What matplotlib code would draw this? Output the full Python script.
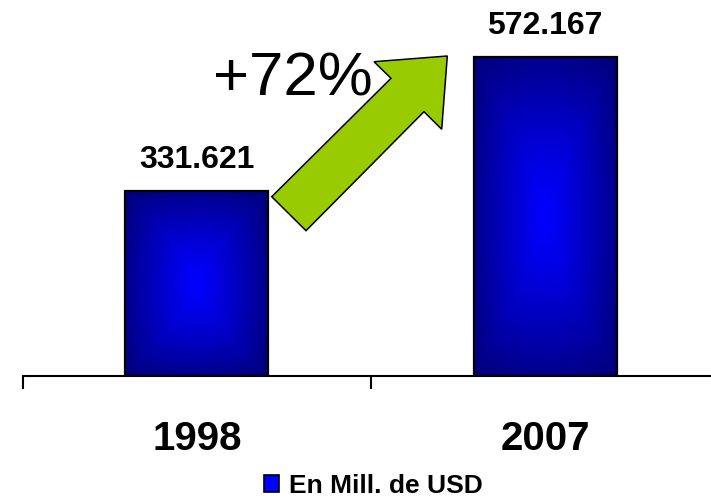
import numpy as np
import matplotlib
matplotlib.use("Agg")
import matplotlib.pyplot as plt
from matplotlib.patches import Polygon, Patch

categories = ["1998", "2007"]
values = [331.621, 572.167]
value_labels = ["331.621", "572.167"]
growth_label = "+72%"
legend_label = "En Mill. de USD"

W, H = 711, 498
fig = plt.figure(figsize=(W / 100, H / 100), dpi=100)
fig.patch.set_facecolor("white")
ax = fig.add_axes([22.7 / W, (H - 375.7) / H, (W - 22.7) / W, 375.7 / H])
ax.set_facecolor("white")

x = np.arange(len(categories))
bw = 0.41

# gradient image (path-style: bright blue centre, navy edges)
n = 200
u = np.linspace(-1, 1, n)
U, V = np.meshgrid(u, u)
t = 0.55 * np.maximum(np.abs(U), np.abs(V) ** 1.3) + 0.45 * np.sqrt((U ** 2 + V ** 2) / 2)
t = np.clip(t, 0, 1) ** 1.1
edge = np.array([0.0, 0.0, 0.47])
centre = np.array([0.0, 0.0, 1.0])
img = centre[None, None, :] * (1 - t[..., None]) + edge[None, None, :] * t[..., None]

bars = ax.bar(x, values, width=bw, color="none", edgecolor="black", linewidth=1.6, zorder=3)
for b in bars:
    x0, w, h = b.get_x(), b.get_width(), b.get_height()
    im = ax.imshow(img, extent=(x0, x0 + w, 0, h), aspect="auto", zorder=2, interpolation="bilinear")
    im.set_clip_path(b)

for xi, v, lab in zip(x, values, value_labels):
    ax.annotate(lab, (xi, v), xytext=(0, 17), textcoords="offset points",
                ha="center", va="baseline", fontsize=23, fontweight="bold",
                family="Liberation Sans", color="black")

# axis styling
for s in ["left", "right", "top"]:
    ax.spines[s].set_visible(False)
ax.spines["bottom"].set_linewidth(1.5)
ax.set_yticks([])
ax.set_xticks([-0.5, 0.5, 1.5])
ax.set_xticklabels([])
ax.tick_params(axis="x", which="major", direction="out", length=9.5, width=1.5, color="black")
ax.set_xlim(-0.5, 1.476)
ax.set_ylim(0, 675.1)

for xi, c in zip(x, categories):
    ax.annotate(c, (xi, (H - 450) / H), xycoords=("data", "figure fraction"),
                ha="center", va="baseline", fontsize=29, fontweight="bold",
                family="Liberation Sans", color="black")

# green arrow (decoration)
arrow_px = [(271.7, 196.7), (306.0, 230.7), (424.0, 111.7), (441.7, 129.3),
            (447.3, 56.0), (374.0, 61.7), (391.0, 78.3)]
arrow_fig = [(px / W, 1 - py / H) for px, py in arrow_px]
fig.patches.append(Polygon(arrow_fig, closed=True, transform=fig.transFigure,
                           facecolor="#99CC00", edgecolor="black", linewidth=1.1, zorder=5))

fig.text(293 / W, 1 - 95 / H, growth_label, ha="center", va="baseline",
         fontsize=44.5, family="Liberation Sans", color="black", zorder=6)

leg = fig.legend(handles=[Patch(facecolor="#0000FF", edgecolor="black", linewidth=1.2, label=legend_label)],
                 loc="center", bbox_to_anchor=(373 / W, 1 - 485.5 / H), bbox_transform=fig.transFigure,
                 frameon=False, handlelength=0.6, handleheight=0.6, handletextpad=0.35,
                 prop={"family": "Liberation Sans", "weight": "bold", "size": 19})

fig.savefig("out.png", dpi=100, facecolor="white")
